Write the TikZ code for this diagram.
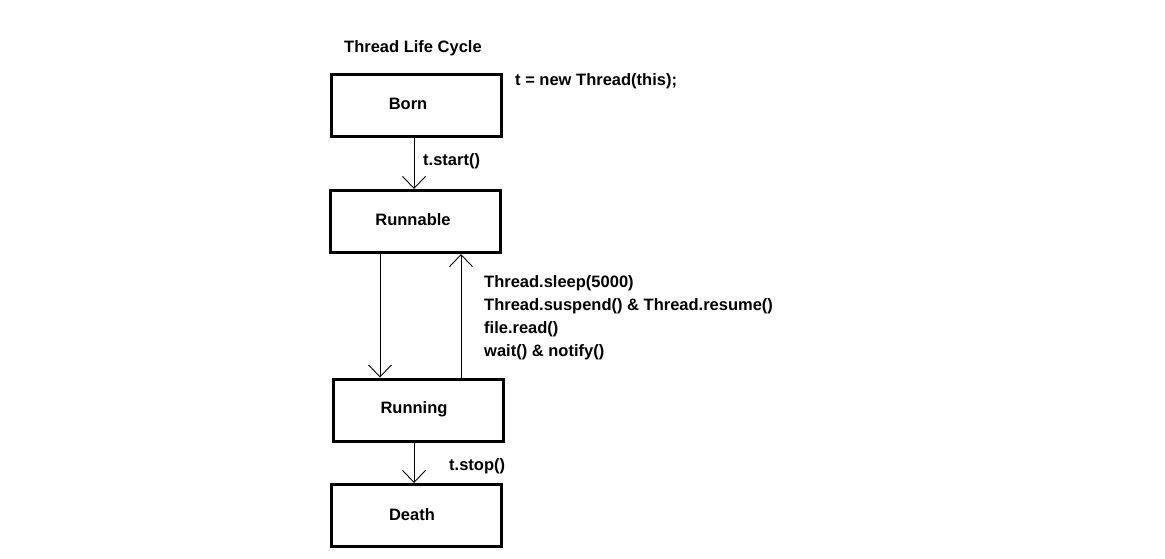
\documentclass[tikz,border=0pt]{standalone}
\usepackage{fontspec}
\setmainfont{Liberation Sans}
\usetikzlibrary{arrows.meta}
\begin{document}
\begin{tikzpicture}[x=1pt,y=-1pt,
  state/.style={draw, line width=3pt, minimum width=170pt, minimum height=62pt, inner sep=0pt},
  lbl/.style={font=\bfseries\fontsize{16.5}{19}\selectfont, inner sep=0pt},
  conn/.style={line width=0.9pt, -{Straight Barb[length=12pt,width=23pt,line width=0.9pt]}}]
\useasboundingbox (0,0) rectangle (1165,558);
\node[state] (born) at (416,105) {};
\node[lbl] at (408,104) {Born};
\node[state] (runnable) at (415.5,221.5) {};
\node[lbl] at (413,220) {Runnable};
\node[state] (running) at (418.5,410) {};
\node[lbl] at (414,409) {Running};
\node[state] (death) at (416,515.5) {};
\node[lbl] at (412,515) {Death};
\node[lbl, anchor=west] (title) at (344,48) {Thread Life Cycle};
\node[lbl, anchor=west] (newt) at (515,81) {t = new Thread(this);};
\node[lbl, anchor=west] (start) at (423,161) {t.start()};
\node[lbl, anchor=west] (stop) at (449,466) {t.stop()};
\node[lbl, anchor=north west, align=left, font=\bfseries\fontsize{16.5}{23}\selectfont] (calls) at (484,275) {Thread.sleep(5000)\\Thread.suspend() \& Thread.resume()\\file.read()\\wait() \& notify()};
\draw[conn] (born.south -| 414,0) -- (runnable.north -| 414,0);
\draw[conn] (runnable.south -| 380,0) -- (running.north -| 380,0);
\draw[conn] (running.north -| 461,0) -- (runnable.south -| 461,0);
\draw[conn] (running.south -| 414,0) -- (death.north -| 414,0);
\end{tikzpicture}
\end{document}
